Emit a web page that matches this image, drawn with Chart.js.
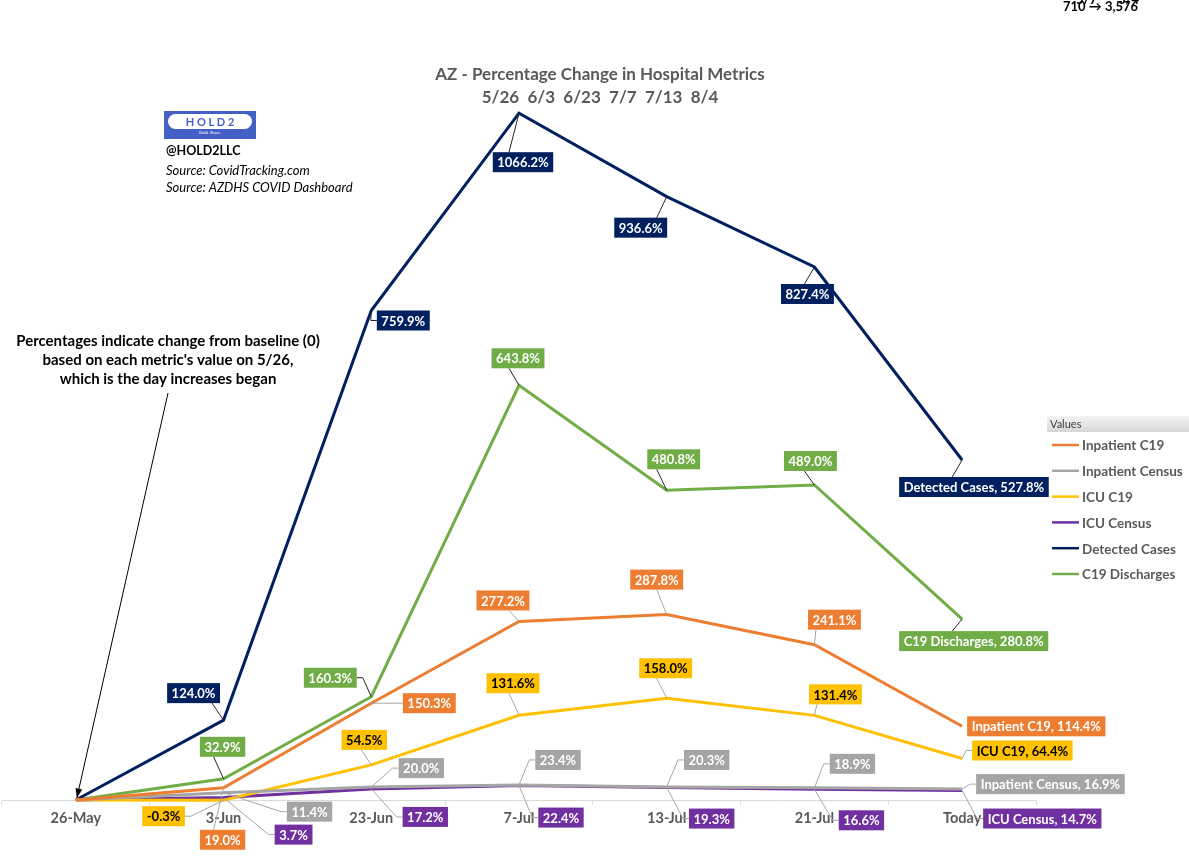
<!DOCTYPE html>
<html>
<head>
<meta charset="utf-8">
<script src="https://cdn.jsdelivr.net/npm/chart.js@4"></script>
<style>
  body { margin: 0; background: #fff; }
  canvas { display: block; }
</style>
</head>
<body>
<canvas id="chart" width="1189" height="863"></canvas>
<script>
// ================= DATA =================
const categories = ["26-May", "3-Jun", "23-Jun", "7-Jul", "13-Jul", "21-Jul", "Today"];
const seriesNames = ["Inpatient C19", "Inpatient Census", "ICU C19", "ICU Census", "Detected Cases", "C19 Discharges"];
const inpatientC19 = [0, 19.0, 150.3, 277.2, 287.8, 241.1, 114.4];
const inpatientCensus = [0, 11.4, 20.0, 23.4, 20.3, 18.9, 16.9];
const icuC19 = [0, -0.3, 54.5, 131.6, 158.0, 131.4, 64.4];
const icuCensus = [0, 3.7, 17.2, 22.4, 19.3, 16.6, 14.7];
const detectedCases = [0, 124.0, 759.9, 1066.2, 936.6, 827.4, 527.8];
const c19Discharges = [0, 32.9, 160.3, 643.8, 480.8, 489.0, 280.8];

const colors = ["#ED7D31", "#A5A5A5", "#FFC000", "#7030A0", "#002060", "#70AD47"];
const labelText = ["#fff", "#fff", "#000", "#fff", "#fff", "#fff"];
const leaderColors = ["#A6A6A6", "#A6A6A6", "#A6A6A6", "#A6A6A6", "#262626", "#262626"];

// label offsets from the point (box centre), last one anchored by left edge
const labelOffsets = [
  [null, [-1, 52], [58, 0], [-16, -21], [-10, -35], [20, -25], [5, 0, "l"]],
  [null, [86, 19], [50, -19], [39, -25], [40, -27], [38, -24], [14, -5, "l"]],
  [null, [-60, 16], [-7, -25], [-6, -32], [-1, -30], [21, -21], [10, -8, "l"]],
  [null, [70, 37], [54, 28], [42, 32], [45, 31], [47, 31], [21, 28, "l"]],
  [null, [-30, -27], [32, 10], [4, 49], [-26, 31], [-7, 27], [-63, 27, "l"]],
  [null, [-1, -32], [-41, -19], [-1, -27], [7, -31], [-4, -24], [-63, 22, "l"]]
];

const FONT = "Lato, 'Open Sans', sans-serif";

// ================= LABELS PLUGIN =================
const boxLabels = {
  id: "boxLabels",
  afterDatasetsDraw(chart) {
    const ctx = chart.ctx;
    ctx.save();
    ctx.font = "bold 13px " + FONT;
    ctx.textBaseline = "middle";
    chart.data.datasets.forEach((ds, i) => {
      const meta = chart.getDatasetMeta(i);
      meta.data.forEach((pt, j) => {
        const off = labelOffsets[i][j];
        if (!off) return;
        let txt = ds.data[j].toFixed(1) + "%";
        if (j === ds.data.length - 1) txt = ds.label + ", " + txt;
        const w = ctx.measureText(txt).width + 9;
        const h = 20;
        let cx = pt.x + off[0];
        if (off[2] === "l") cx = pt.x + off[0] + w / 2;
        const cy = pt.y + off[1];
        const left = cx - w / 2, right = cx + w / 2, top = cy - h / 2, bottom = cy + h / 2;

        // leader line
        let tx, ty;
        if (pt.x < left - 4) { tx = left; ty = cy; }
        else if (pt.x > right + 4) { tx = right; ty = cy; }
        else { tx = Math.min(Math.max(pt.x - 10, left + 8), right - 8); ty = pt.y < top ? top : bottom; }
        const dist = Math.hypot(tx - pt.x, ty - pt.y);
        if (dist > 10) {
          ctx.strokeStyle = leaderColors[i];
          ctx.lineWidth = 1;
          ctx.beginPath();
          ctx.moveTo(pt.x, pt.y);
          if (tx === left || tx === right) {
            const stub = tx === left ? -6 : 6;
            ctx.lineTo(tx + stub, ty);
          }
          ctx.lineTo(tx, ty);
          ctx.stroke();
        }

        ctx.fillStyle = colors[i];
        ctx.fillRect(left, top, w, h);
        ctx.fillStyle = labelText[i];
        ctx.textAlign = "center";
        ctx.fillText(txt, cx, cy + 1);
      });
    });
    ctx.restore();
  }
};

// ================= DECORATION PLUGIN =================
const decorations = {
  id: "decorations",
  afterDraw(chart) {
    const ctx = chart.ctx;
    ctx.save();
    ctx.textBaseline = "middle";

    // title
    ctx.fillStyle = "#595959";
    ctx.textAlign = "center";
    ctx.font = "bold 17px " + FONT;
    ctx.fillText("AZ - Percentage Change in Hospital Metrics", 600, 75);
    ctx.fillText("5/26  6/3  6/23  7/7  7/13  8/4", 600, 98);

    // top right note (cut off)
    ctx.fillStyle = "#000";
    ctx.font = "bold 13px " + FONT;
    ctx.textAlign = "left";
    ctx.fillText("5/7", 1076, 0);
    ctx.fillText("3/4", 1118, 0);
    ctx.fillText("710 \u2192 3,576", 1063, 7);

    // logo
    ctx.fillStyle = "#4560C4";
    ctx.fillRect(164, 111, 92, 28);
    ctx.fillStyle = "#fff";
    ctx.beginPath();
    ctx.roundRect(168, 114, 84, 15, 7.5);
    ctx.fill();
    ctx.fillStyle = "#4560C4";
    ctx.font = "bold 11px " + FONT;
    ctx.textAlign = "center";
    ctx.fillText("H O L D 2", 210, 122);
    ctx.fillStyle = "#fff";
    ctx.font = "4px " + FONT;
    ctx.fillText("Build. Share.", 210, 133);

    // source text
    ctx.textAlign = "left";
    ctx.fillStyle = "#000";
    ctx.font = "bold 12.5px " + FONT;
    ctx.fillText("@HOLD2LLC", 166, 151);
    ctx.font = "italic 13px " + FONT;
    ctx.fillText("Source: CovidTracking.com", 166, 171);
    ctx.fillText("Source: AZDHS COVID Dashboard", 166, 188);

    // annotation
    ctx.textAlign = "center";
    ctx.font = "bold 15px " + FONT;
    ctx.fillText("Percentages indicate change from baseline (0)", 168, 341);
    ctx.fillText("based on each metric's value on 5/26,", 168, 360);
    ctx.fillText("which is the day increases began", 168, 379);

    // arrow to baseline
    const x0 = 168, y0 = 393;
    const base = chart.getDatasetMeta(0).data[0];
    const x1 = base.x + 1, y1 = base.y - 2;
    ctx.strokeStyle = "#000";
    ctx.lineWidth = 1;
    ctx.beginPath();
    ctx.moveTo(x0, y0);
    ctx.lineTo(x1, y1);
    ctx.stroke();
    const ang = Math.atan2(y1 - y0, x1 - x0);
    ctx.beginPath();
    ctx.moveTo(x1, y1);
    ctx.lineTo(x1 - 10 * Math.cos(ang - 0.35), y1 - 10 * Math.sin(ang - 0.35));
    ctx.lineTo(x1 - 10 * Math.cos(ang + 0.35), y1 - 10 * Math.sin(ang + 0.35));
    ctx.closePath();
    ctx.fillStyle = "#000";
    ctx.fill();

    // legend
    const g = ctx.createLinearGradient(0, 416, 0, 432);
    g.addColorStop(0, "#F4F4F4");
    g.addColorStop(1, "#D6D6D6");
    ctx.fillStyle = g;
    ctx.fillRect(1047, 416, 142, 16);
    ctx.fillStyle = "#404040";
    ctx.textAlign = "left";
    ctx.font = "11px " + FONT;
    ctx.fillText("Values", 1050, 424);
    ctx.font = "bold 13.5px " + FONT;
    seriesNames.forEach((name, i) => {
      const y = 445 + i * 25.8;
      ctx.strokeStyle = colors[i];
      ctx.lineWidth = 2.5;
      ctx.beginPath();
      ctx.moveTo(1052, y);
      ctx.lineTo(1079, y);
      ctx.stroke();
      ctx.fillStyle = "#595959";
      ctx.fillText(name, 1082, y + 1);
    });

    ctx.restore();
  }
};

// ================= CHART =================
const seriesData = [inpatientC19, inpatientCensus, icuC19, icuCensus, detectedCases, c19Discharges];

new Chart(document.getElementById("chart"), {
  type: "line",
  data: {
    labels: categories,
    datasets: seriesNames.map((name, i) => ({
      label: name,
      data: seriesData[i],
      borderColor: colors[i],
      backgroundColor: colors[i],
      borderWidth: 3,
      pointRadius: 0,
      tension: 0,
      clip: false
    }))
  },
  options: {
    responsive: false,
    animation: false,
    layout: { padding: { left: 2, right: 153, top: 27, bottom: 0 } },
    plugins: {
      legend: { display: false },
      tooltip: { enabled: false }
    },
    scales: {
      x: {
        offset: true,
        grid: {
          offset: true,
          drawOnChartArea: false,
          drawTicks: true,
          tickLength: 5,
          color: "#D9D9D9"
        },
        border: { color: "#D9D9D9" },
        ticks: {
          color: "#595959",
          font: { family: FONT, size: 14.5, weight: "bold" },
          padding: 5,
          maxRotation: 0
        },
        afterFit(scale) { scale.height = 63; }
      },
      y: {
        display: false,
        min: 0,
        max: 1200
      }
    }
  },
  plugins: [boxLabels, decorations]
});
</script>
</body>
</html>
